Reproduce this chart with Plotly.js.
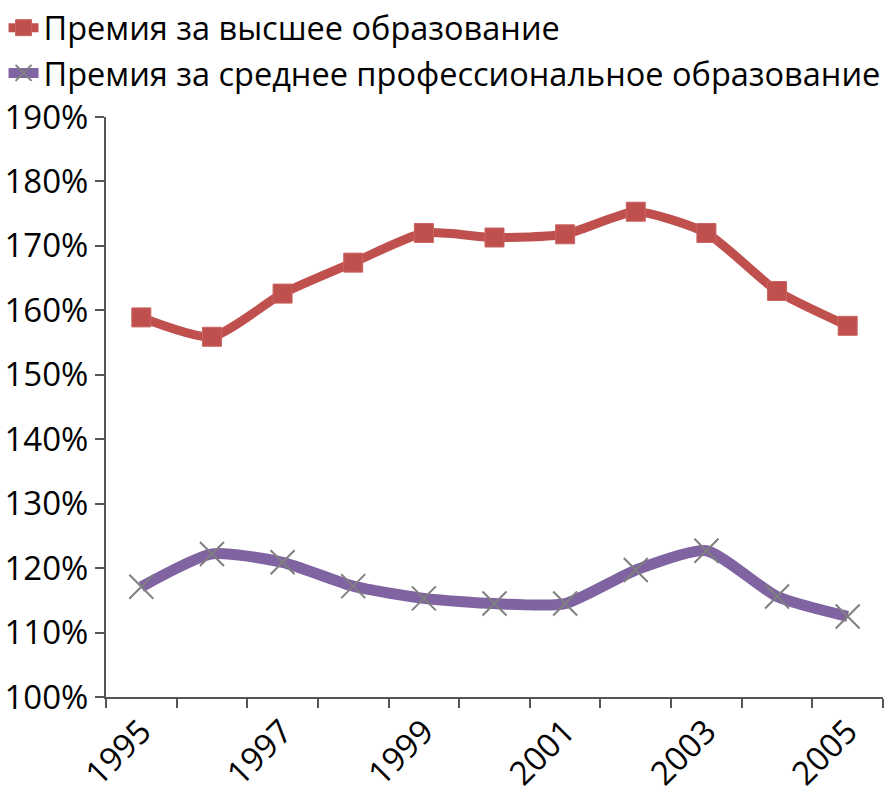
<!DOCTYPE html>
<html>
<head>
<meta charset="utf-8">
<script src="https://cdn.plot.ly/plotly-3.0.1.min.js"></script>
<style>html,body{margin:0;padding:0;background:#fff;}#chart{width:885px;height:795px;}</style>
</head>
<body>
<div id="chart"></div>
<script>
const years = ['1995','1996','1997','1998','1999','2000','2001','2002','2003','2004','2005'];
const tickLabels = ['1995','','1997','','1999','','2001','','2003','','2005'];
const higherEdu = [158.9, 155.9, 162.6, 167.4, 172.0, 171.3, 171.8, 175.3, 172.0, 163.0, 157.6];
const vocationalEdu = [117.1, 122.2, 120.9, 117.2, 115.3, 114.5, 114.5, 119.7, 122.7, 115.6, 112.5];
const seriesNames = ['Премия за высшее образование', 'Премия за среднее профессиональное образование'];

const font = 'Open Sans, Segoe UI, sans-serif';

const traces = [
  {
    x: years, y: higherEdu, name: seriesNames[0], legendgroup: 'a',
    type: 'scatter', mode: 'lines+markers',
    line: {color: '#C0504D', width: 9, shape: 'spline', smoothing: 0.6},
    marker: {symbol: 'square', size: 19, color: '#C0504D', line: {color: '#C96461', width: 1}}
  },
  {
    x: years, y: vocationalEdu, name: seriesNames[1], legendgroup: 'b',
    type: 'scatter', mode: 'lines+markers',
    line: {color: '#8064A2', width: 11, shape: 'spline', smoothing: 0.6},
    marker: {symbol: 'x-thin', size: 24, color: '#7F7F7F', line: {color: '#7F7F7F', width: 2}}
  }
];

const layout = {
  width: 885, height: 795,
  margin: {l: 106, r: 2, t: 117, b: 98, autoexpand: false},
  paper_bgcolor: '#fff', plot_bgcolor: '#fff',
  font: {family: font, color: '#000', size: 30},
  showlegend: true,
  legend: {
    xref: 'container', yref: 'container', x: 0.004, y: 1.014, xanchor: 'left', yanchor: 'top',
    font: {family: font, size: 32.5, color: '#000'},
    tracegroupgap: 0, itemwidth: 30, bgcolor: 'rgba(0,0,0,0)'
  },
  xaxis: {
    type: 'category', tickmode: 'array', tickvals: years, ticktext: tickLabels,
    tickson: 'boundaries', ticks: 'outside', ticklen: 9, tickwidth: 2, tickcolor: '#555',
    showline: true, linecolor: '#555', linewidth: 2, showgrid: false, zeroline: false,
    tickangle: -45, tickfont: {family: font, size: 33, color: '#000'},
    range: [-0.5, 10.5]
  },
  yaxis: {
    range: [100, 190], dtick: 10, ticksuffix: '%',
    ticks: 'outside', ticklen: 9, tickwidth: 2, tickcolor: '#555',
    showline: true, linecolor: '#555', linewidth: 2, showgrid: false, zeroline: false,
    tickfont: {family: font, size: 33, color: '#000'}
  }
};

Plotly.newPlot('chart', traces, layout, {displayModeBar: false, staticPlot: true});
</script>
</body>
</html>
